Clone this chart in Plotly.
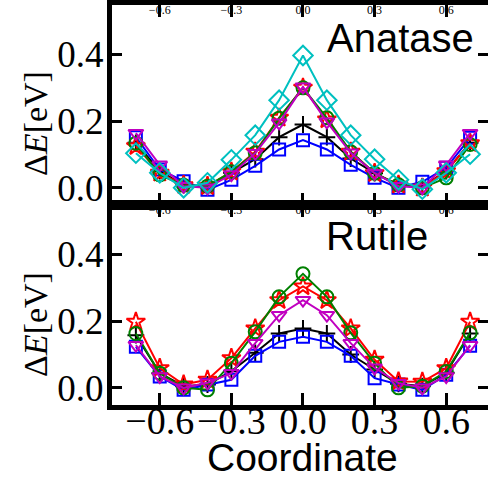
import plotly.graph_objects as go

coord = [-0.7, -0.6, -0.5, -0.4, -0.3, -0.2, -0.1, 0.0, 0.1, 0.2, 0.3, 0.4, 0.5, 0.6, 0.7]

# Anatase (top panel)
ana_black = [0.135, 0.050, 0.008, 0.005, 0.045, 0.086, 0.152, 0.190, 0.152, 0.088, 0.044, 0.008, 0.004, 0.050, 0.135]
ana_blue = [0.152, 0.055, 0.020, -0.006, 0.024, 0.066, 0.115, 0.143, 0.115, 0.069, 0.030, 0.000, 0.018, 0.060, 0.150]
ana_red = [0.125, 0.045, 0.008, 0.005, 0.048, 0.108, 0.210, 0.300, 0.205, 0.108, 0.044, 0.009, 0.000, 0.050, 0.134]
ana_green = [0.134, 0.039, 0.008, 0.005, 0.048, 0.105, 0.209, 0.300, 0.210, 0.108, 0.044, 0.009, 0.000, 0.030, 0.130]
ana_magenta = [0.164, 0.069, 0.005, 0.000, 0.040, 0.104, 0.195, 0.303, 0.198, 0.105, 0.044, 0.005, 0.000, 0.069, 0.164]
ana_cyan = [0.104, 0.045, 0.000, 0.015, 0.084, 0.158, 0.263, 0.397, 0.263, 0.158, 0.086, 0.024, -0.004, 0.045, 0.101]

# Rutile (bottom panel)
rut_black = [0.158, 0.044, 0.005, 0.010, 0.050, 0.105, 0.163, 0.178, 0.163, 0.100, 0.055, 0.012, 0.005, 0.045, 0.163]
rut_blue = [0.123, 0.034, -0.006, 0.010, 0.024, 0.096, 0.138, 0.153, 0.138, 0.096, 0.029, 0.010, -0.006, 0.039, 0.126]
rut_red = [0.198, 0.059, 0.010, 0.024, 0.089, 0.178, 0.263, 0.304, 0.263, 0.178, 0.084, 0.019, 0.018, 0.059, 0.198]
rut_green = [0.163, 0.044, 0.000, -0.006, 0.074, 0.168, 0.273, 0.342, 0.273, 0.165, 0.074, 0.000, 0.005, 0.049, 0.165]
rut_magenta = [0.128, 0.034, 0.000, 0.015, 0.044, 0.134, 0.218, 0.263, 0.218, 0.134, 0.060, 0.014, 0.000, 0.034, 0.128]

x_ticks = [-0.6, -0.3, 0.0, 0.3, 0.6]
y_ticks = [0.0, 0.2, 0.4]
panel_names = ["Anatase", "Rutile"]
x_title = "Coordinate"
y_title = "Δ<i>E</i>[eV]"

styles = {
    "black": dict(color="black", symbol="cross-thin-open", size=12),
    "blue": dict(color="blue", symbol="square-open", size=12),
    "red": dict(color="red", symbol="star-open", size=14),
    "green": dict(color="green", symbol="circle-open", size=13),
    "magenta": dict(color="#c000c0", symbol="triangle-down-open", size=13),
    "cyan": dict(color="#00c0c0", symbol="diamond-open", size=15),
}

fig = go.Figure()

def add(ys, key, xa, ya, hidden=False):
    s = styles[key]
    fig.add_trace(go.Scatter(
        x=coord, y=ys, mode="lines+markers" if not hidden else "markers",
        xaxis=xa, yaxis=ya, opacity=0 if hidden else 1,
        hoverinfo="skip" if hidden else None,
        line=dict(color=s["color"], width=2),
        marker=dict(symbol=s["symbol"], size=s["size"], color=s["color"],
                    line=dict(color=s["color"], width=2)),
        showlegend=False))

for ys, k in [(ana_black, "black"), (ana_blue, "blue"), (ana_red, "red"),
              (ana_green, "green"), (ana_magenta, "magenta"), (ana_cyan, "cyan")]:
    add(ys, k, "x2", "y2")
for ys, k in [(rut_black, "black"), (rut_blue, "blue"), (rut_red, "red"),
              (rut_green, "green"), (rut_magenta, "magenta")]:
    add(ys, k, "x", "y")
# invisible carriers so the secondary axes get drawn
add(ana_black, "black", "x4", "y2", hidden=True)
add(rut_black, "black", "x3", "y", hidden=True)
add(rut_black, "black", "x5", "y", hidden=True)

W, H = 488, 481
L = 112
xr = [-0.8, 0.775]
yr = [-0.05, 0.55]
top_dom = [1 - 204.5 / H, 1 - 4.5 / H]
bot_dom = [1 - 404.5 / H, 1 - 204.5 / H]

serif = "Liberation Serif"
sans = "Liberation Sans"

xbase = dict(range=xr, tickvals=x_ticks, tickformat=".1f", ticks="inside", ticklen=12,
             tickwidth=3, tickcolor="black", showline=True, linewidth=5, linecolor="black",
             mirror="ticks", showgrid=False, zeroline=False, domain=[0, 1],
             tickangle=0, automargin=False, showticklabels=False)
ybase = dict(range=yr, tickvals=y_ticks, tickformat=".1f", ticks="inside", ticklen=10,
             tickwidth=3, tickcolor="black", showline=True, linewidth=5, linecolor="black",
             mirror="ticks", showgrid=False, zeroline=False, ticklabelstandoff=-4,
             automargin=False,
             tickfont=dict(family=serif, size=37, color="black"))
xtop = dict(range=xr, tickvals=x_ticks, tickformat=".1f", ticks="", showline=False,
            side="top", ticklabelposition="inside", showgrid=False, zeroline=False,
            ticklabelstandoff=-2, tickangle=0, automargin=False,
            tickfont=dict(family=serif, size=12, color="black"), domain=[0, 1])
# bottom tick labels, drawn by a line-less axis sitting just above the frame
xlab = dict(range=xr, tickvals=x_ticks, tickformat=".1f", ticks="", showline=False,
            side="bottom", showgrid=False, zeroline=False, tickangle=0, automargin=False,
            overlaying="x", anchor="free", position=1 - 395 / H,
            tickfont=dict(family=serif, size=38, color="black"), domain=[0, 1])

fig.update_layout(
    width=W, height=H, margin=dict(l=L, r=0, t=0, b=0),
    plot_bgcolor="white", paper_bgcolor="white",
    xaxis=dict(xbase, anchor="y"),
    xaxis2=dict(xbase, anchor="y2", matches="x"),
    xaxis3=dict(xtop, overlaying="x", anchor="y"),
    xaxis4=dict(xtop, overlaying="x2", anchor="y2"),
    xaxis5=xlab,
    yaxis=dict(ybase, domain=bot_dom, anchor="x"),
    yaxis2=dict(ybase, domain=top_dom, anchor="x2"),
    annotations=[
        dict(text=panel_names[0], x=0.41, y=0.45, xref="x2", yref="y2", showarrow=False,
             font=dict(family=sans, size=40, color="black"), xanchor="center", yanchor="middle"),
        dict(text=panel_names[1], x=0.31, y=0.455, xref="x", yref="y", showarrow=False,
             font=dict(family=sans, size=40, color="black"), xanchor="center", yanchor="middle"),
        dict(text=x_title, x=0.0, y=1 - 457 / H, xref="x", yref="paper", showarrow=False,
             font=dict(family=sans, size=39, color="black"), xanchor="center", yanchor="middle"),
        dict(text=y_title, textangle=-90, x=(35 - L) / (W - L), y=1 - 124 / H,
             xref="paper", yref="paper",
             showarrow=False, font=dict(family=serif, size=34, color="black"),
             xanchor="center", yanchor="middle"),
        dict(text=y_title, textangle=-90, x=(35 - L) / (W - L), y=1 - 325 / H,
             xref="paper", yref="paper",
             showarrow=False, font=dict(family=serif, size=34, color="black"),
             xanchor="center", yanchor="middle"),
    ],
)

fig.write_html("out.html")
